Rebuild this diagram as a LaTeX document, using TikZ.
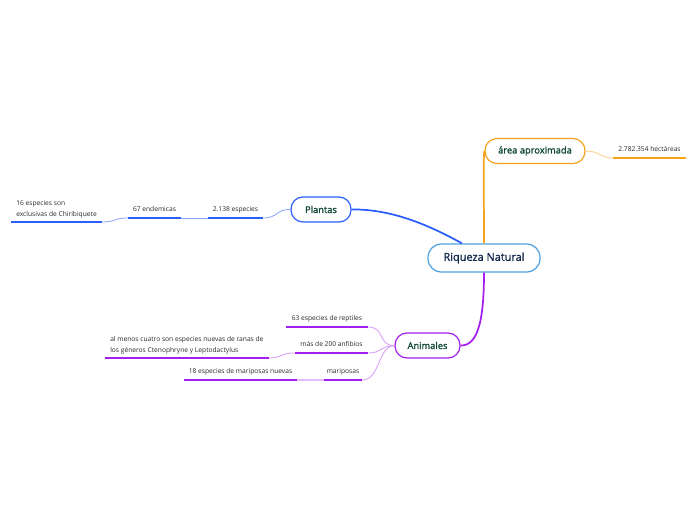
\documentclass[tikz,border=0pt]{standalone}
\usepackage{fontspec}
\setmainfont{Open Sans}
\newfontfamily\topicfont[FakeBold=1.3]{Open Sans}
\definecolor{rootline}{HTML}{4AA0E2}
\definecolor{roottext}{HTML}{12284C}
\definecolor{topictext}{HTML}{114A33}
\definecolor{plantblue}{HTML}{2B5EFF}
\definecolor{animpurple}{HTML}{A41EF2}
\definecolor{areaorange}{HTML}{F7A21C}
\definecolor{leaftext}{HTML}{2B2B2B}
\tikzset{
  topic/.style={draw, rounded corners=9pt, line width=0.9pt, text=topictext,
    font=\topicfont\fontsize{7}{8}\selectfont, minimum height=18.75pt, inner sep=0pt},
  leaf/.style={anchor=south, inner xsep=0pt, inner ysep=3.6pt, text=leaftext,
    text height=3.8pt, text depth=1pt, font=\fontsize{5}{6}\selectfont},
  leaftwo/.style={anchor=south west, inner xsep=3.75pt, inner ysep=2.4pt, text=leaftext,
    align=left, font=\fontsize{5}{8.25}\selectfont},
  branch/.style={line width=1.3pt},
  twig/.style={line width=0.6pt},
  under/.style={line width=1.6pt}
}
\begin{document}
\begin{tikzpicture}[x=0.75pt, y=-0.75pt]
    \useasboundingbox[fill=white] (0,0) rectangle (696,520);
    % central topic
    \node (root) at (484,258) [topic, draw=rootline, text=roottext, rounded corners=10pt,
        minimum width=84pt, minimum height=21pt, font=\topicfont\fontsize{8.2}{9}\selectfont] {Riqueza Natural};
    % main topics
    \node (area) at (535,151) [topic, draw=areaorange, minimum width=75pt] {área aproximada};
    \node (plantas) at (321,209.5) [topic, draw=plantblue, minimum width=45pt] {Plantas};
    \node (animales) at (427.5,345.5) [topic, draw=animpurple, minimum width=48.75pt] {Animales};
    \draw[branch, areaorange] (root.north) .. controls (484,190) and (483,160) .. (area.west);
    \draw[branch, plantblue] (plantas.east) .. controls (385,209) and (420,220) .. ([xshift=-16.5pt]root.north);
    \draw[branch, animpurple] (root.south) .. controls (484,320) and (478,346) .. (animales.east);
    % area
    \node (hect) at (649.5,158) [leaf, minimum width=54.75pt] {2.782.354 hectáreas};
    \draw[twig, areaorange!55] (area.east) .. controls (600,151) and (600,158) .. (hect.south west);
    % plantas
    \node (p1) at (235.5,218) [leaf, minimum width=41.25pt] {2.138 especies};
    \node (p2) at (154.5,218) [leaf, minimum width=39.75pt] {67 endemicas};
    \node (p3) at (11,222) [leaftwo] {16 especies son\\exclusivas de Chiribiquete};
    \draw[twig, plantblue!55] (plantas.west) .. controls (276,209) and (278,218) .. (p1.south east);
    \draw[twig, plantblue!55] (p1.south west) -- (p2.south east);
    \draw[twig, plantblue!55] (p2.south west) .. controls (114,218) and (116,222) .. (p3.south east);
    % animales
    \node (a1) at (327,327) [leaf, minimum width=61.5pt] {63 especies de reptiles};
    \node (a2) at (331.5,353) [leaf, minimum width=54.75pt] {más de 200 anfibios};
    \node (a3) at (105,358) [leaftwo] {al menos cuatro son especies nuevas de ranas de\\los géneros Ctenophryne y Leptodactylus};
    \node (a4) at (343,380) [leaf, minimum width=28.5pt] {mariposas};
    \node (a5) at (240.5,380) [leaf, minimum width=84.75pt] {18 especies de mariposas nuevas};
    \draw[twig, animpurple!45] (animales.west) .. controls (378,346) and (385,327) .. (a1.south east);
    \draw[twig, animpurple!45] (animales.west) .. controls (380,346) and (382,353) .. (a2.south east);
    \draw[twig, animpurple!45] (animales.west) .. controls (378,346) and (380,380) .. (a4.south east);
    \draw[twig, animpurple!45] (a2.south west) .. controls (280,353) and (282,358) .. (a3.south east);
    \draw[under, animpurple!30] (a4.south west) -- (a5.south east);
    % underlines
    \draw[under, areaorange] (hect.south west) -- (hect.south east);
    \foreach \n in {p1,p2,p3}
      \draw[under, plantblue] (\n.south west) -- (\n.south east);
    \foreach \n in {a1,a2,a3,a4,a5}
      \draw[under, animpurple] (\n.south west) -- (\n.south east);
\end{tikzpicture}
\end{document}
